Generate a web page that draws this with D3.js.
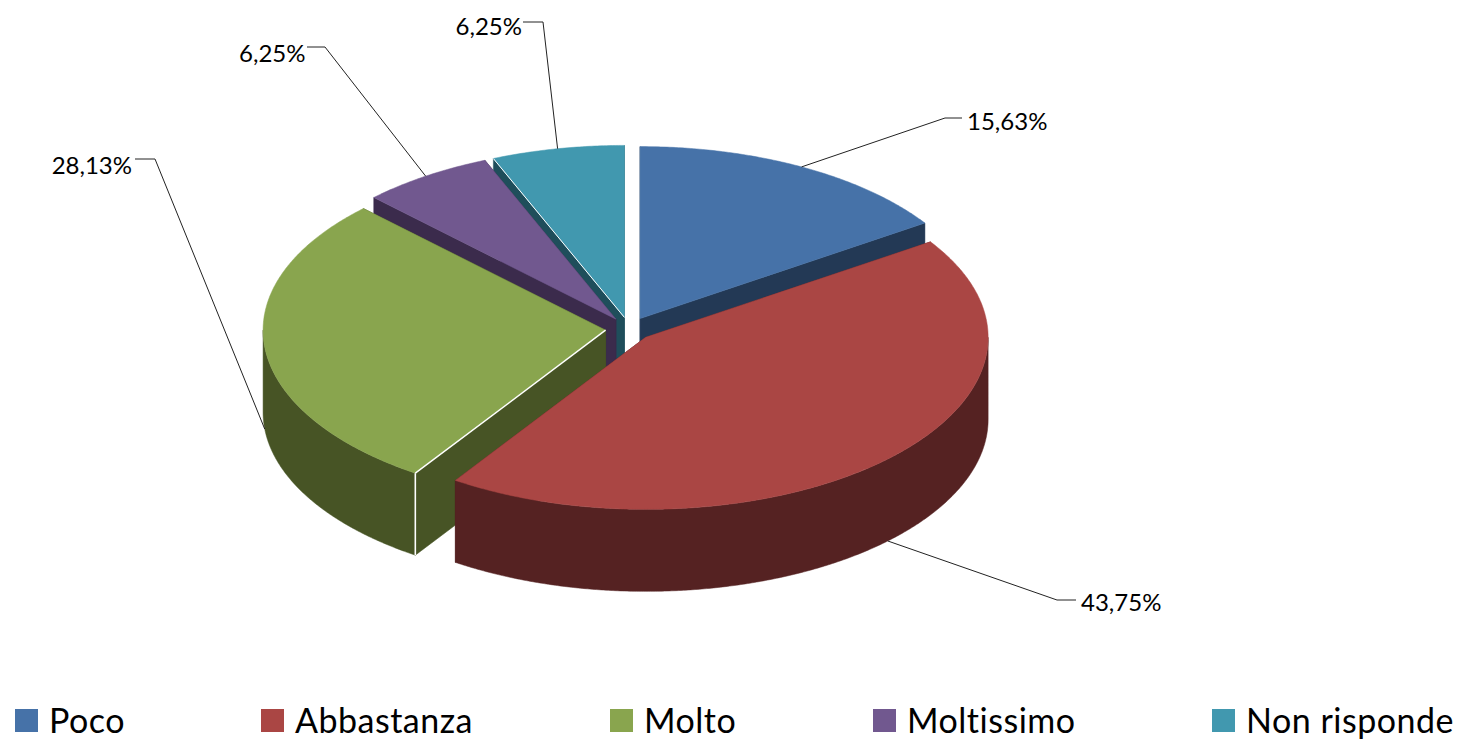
<!DOCTYPE html>
<html><head><meta charset="utf-8">
<style>html,body{margin:0;padding:0;background:#fff}svg{display:block}text{font-family:Lato,"Open Sans",sans-serif;fill:#000}</style>
<script src="https://d3js.org/d3.v7.min.js"></script></head>
<body><div id="c"></div>
<script>
const categories = ["Poco","Abbastanza","Molto","Moltissimo","Non risponde"];
const values = [15.63,43.75,28.13,6.25,6.25];
const valueLabels = ["15,63%","43,75%","28,13%","6,25%","6,25%"];
const topColors = ["#4672A8","#AA4644","#89A54E","#71588F","#4198AF"];
const sideColors = ["#233955","#552222","#475425","#3B2B4C","#1F4E5B"];
const paintOrder = [0,4,3,2,1];

const W=1461,H=741,cx=629,cy=329,rx=342.5,ry=172,depth=82,explode=0.0687;
// leader layout: elbow, end of horizontal stub, label anchor
const leaders = [
 {elbow:[945,118],stub:[962,118],tx:967,ty:130,anchor:"start"},
 {elbow:[1057,600],stub:[1076,600],tx:1081,ty:611,anchor:"start"},
 {elbow:[155,159],stub:[135,159],tx:132,ty:174,anchor:"end"},
 {elbow:[325,47],stub:[307,47],tx:305.5,ty:62,anchor:"end"},
 {elbow:[543,22],stub:[523,22],tx:522,ty:35,anchor:"end"}
];
const legendX = [15,261,610,873,1212];

const svg=d3.select("#c").append("svg").attr("width",W).attr("height",H);
const arcs=d3.pie().sort(null).startAngle(0).endAngle(2*Math.PI)(values);
const line=d3.line();
const px=(o,a,r=1)=>[o[0]+rx*r*Math.sin(a),o[1]-ry*r*Math.cos(a)];
const down=p=>[p[0],p[1]+depth];
const slices=arcs.map(d=>{
  const mid=(d.startAngle+d.endAngle)/2;
  const o=px([cx,cy],mid,explode);
  const n=Math.ceil((d.endAngle-d.startAngle)*180/Math.PI*2);
  const at=i=>d.startAngle+(d.endAngle-d.startAngle)*i/n;
  const rim=d3.range(n+1).map(i=>px(o,at(i)));
  // outer wall: only the front half of the ellipse faces the viewer
  const a0=Math.max(d.startAngle,Math.PI/2),a1=Math.min(d.endAngle,3*Math.PI/2);
  const front=a1>a0?d3.range(n+1).map(i=>px(o,a0+(a1-a0)*i/n)):[];
  return {mid,o,rim,front};
});
const g=svg.append("g");
paintOrder.forEach(i=>{
  const s=slices[i],first=s.rim[0],last=s.rim[s.rim.length-1];
  const side=sideColors[i];
  const draw=(pts,fill)=>g.append("path").attr("d",line(pts)+"Z").attr("fill",fill).attr("stroke",fill).attr("stroke-width",0.5);
  draw([s.o,last,down(last),down(s.o)],side);
  draw([s.o,first,down(first),down(s.o)],side);
  if(s.front.length) draw(s.front.concat(s.front.map(down).reverse()),side);
  draw([s.o,...s.rim],topColors[i]);
  if(i===2||i===4){
    g.append("path").attr("d",line([s.o,first])).attr("fill","none").attr("stroke","#fff").attr("stroke-width",i===2?1.4:1);
  }
  if(i===2){
    g.append("path").attr("d",line([first,down(first)])).attr("fill","none").attr("stroke","#fff").attr("stroke-width",1.6);
  }
});
// leader lines and value labels
slices.forEach((s,i)=>{
  const l=leaders[i];
  let st=px(s.o,s.mid);
  if(Math.cos(s.mid)<0) st=down(st);
  svg.append("path").attr("d",line([st,l.elbow,l.stub])).attr("fill","none").attr("stroke","#222").attr("stroke-width",1);
  svg.append("text").attr("x",l.tx).attr("y",l.ty).attr("text-anchor",l.anchor).attr("font-size",24).text(valueLabels[i]);
});
// legend
categories.forEach((c,i)=>{
  svg.append("rect").attr("x",legendX[i]).attr("y",709).attr("width",23).attr("height",23).attr("fill",topColors[i]);
  svg.append("text").attr("x",legendX[i]+34).attr("y",733).attr("font-size",34).attr("letter-spacing",0.5).text(c);
});
</script></body></html>
